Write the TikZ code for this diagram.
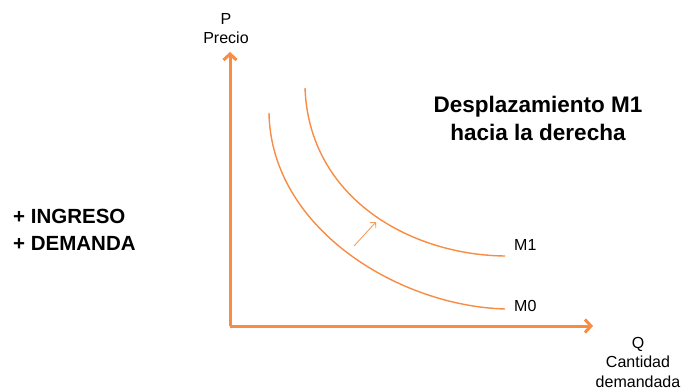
\documentclass[tikz,border=0pt]{standalone}
\usepackage{fontspec}
\setmainfont{Liberation Sans}
\usetikzlibrary{arrows.meta}
\definecolor{naranja}{RGB}{247,140,66}

\begin{document}
\begin{tikzpicture}[x=1pt,y=-1pt,
  eje/.style={naranja,line width=3pt,-{Straight Barb[length=6pt,width=13pt]}},
  curva/.style={naranja,line width=1.4pt},
  etiq/.style={font=\fontsize{16}{19.5}\selectfont,align=center,inner sep=0pt},
  grande/.style={font=\fontsize{20.5}{27}\selectfont\bfseries,inner sep=0pt}]
  \useasboundingbox (0,0) rectangle (683,390);
  % ejes
  \coordinate (O) at (230,326);
  \coordinate (ytop) at (230,52);
  \coordinate (xend) at (593,326);
  \draw[eje] (O) -- (ytop);
  \draw[eje] (O) -- (xend);
  \node[etiq,anchor=north] (py) at (226,13) {P\\Precio};
  \node[etiq,anchor=north] (qx) at (638,337) {Q\\Cantidad\\demandada};
  % curvas
  \coordinate (m0a) at (269,113);
  \coordinate (m0b) at (505,309);
  \coordinate (m1a) at (305,88);
  \coordinate (m1b) at (505,256);
  \draw[curva] (m0a) .. controls (271,228) and (398,306) .. (m0b);
  \draw[curva] (m1a) .. controls (309,198) and (410,255) .. (m1b);
  \node[etiq,anchor=base west] (m1) at (514,251) {M1};
  \node[etiq,anchor=base west] (m0) at (514,312) {M0};
  % flecha
  \coordinate (fa) at (354,246);
  \coordinate (fb) at (376,222);
  \draw[naranja!85,line width=0.9pt,-{Straight Barb[length=4pt,width=8pt]}] (fa) -- (fb);
  % textos
  \node[grande,anchor=north west,align=left] (ing) at (13,209) {+ INGRESO\\+ DEMANDA};
  \node[grande,font=\fontsize{22.5}{28}\selectfont\bfseries,anchor=north,align=center] (tit) at (538,96) {Desplazamiento M1\\hacia la derecha};
\end{tikzpicture}
\end{document}
